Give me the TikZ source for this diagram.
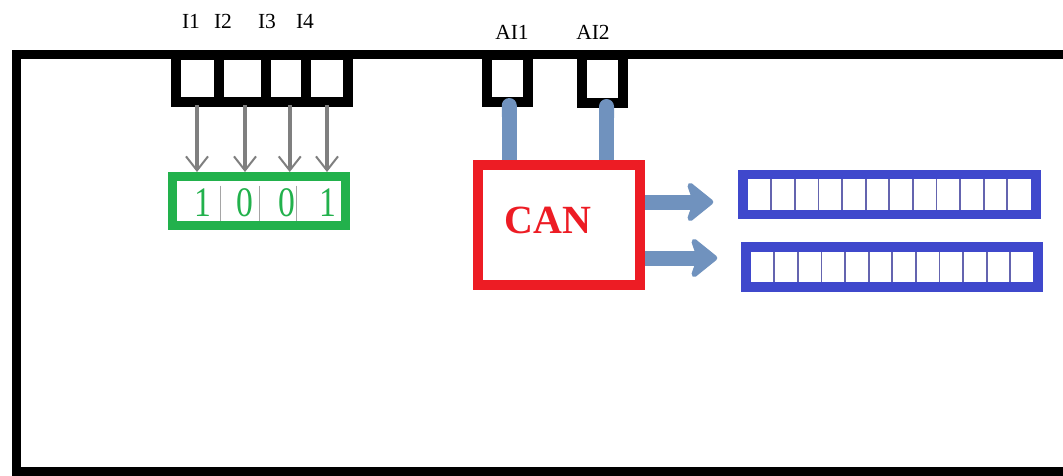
\documentclass[tikz,border=0pt]{standalone}
\usepackage{fontspec}
\setmainfont{Liberation Serif}
\usetikzlibrary{arrows.meta,calc}
\definecolor{pgreen}{RGB}{34,177,76}
\definecolor{pred}{RGB}{237,28,36}
\definecolor{pblue}{RGB}{63,72,204}
\definecolor{psteel}{RGB}{112,146,190}
\definecolor{pgray}{RGB}{127,127,127}
\definecolor{pcell}{RGB}{100,100,175}
\begin{document}
\begin{tikzpicture}[x=1pt,y=-1pt,
  port/.style={draw=black, line width=10pt, inner sep=0pt, rectangle},
  lbl/.style={font=\fontsize{21.5}{24}\selectfont, inner sep=0pt},
  bitbox/.style={draw=pgreen, line width=9pt, inner sep=0pt, minimum width=173pt, minimum height=49pt},
  bitdigit/.style={text=pgreen, font=\fontsize{42}{44}\selectfont, inner sep=0pt},
  bitdiv/.style={draw=pgray!70, line width=1pt},
  inarrow/.style={draw=pgray, line width=4pt, -{Straight Barb[length=14pt,width=22pt,line width=2pt]}},
  canbox/.style={draw=pred, line width=10pt, inner sep=0pt, minimum width=162pt, minimum height=120pt},
  cantext/.style={text=pred, font=\fontsize{40}{44}\selectfont\bfseries, inner sep=0pt},
  aiwire/.style={draw=psteel, line width=15pt, {Round Cap[]}-},
  fatarrow/.style={draw=psteel, fill=psteel, line width=15pt, -{Stealth[length=30pt,width=48pt,inset=8pt,round]}},
  reg/.style={draw=pblue, line width=9.5pt, inner sep=0pt, minimum width=293pt, minimum height=40pt},
  regdiv/.style={draw=pcell, line width=1.8pt}]
\useasboundingbox (0,0) rectangle (1063,475);
\clip (0,0) rectangle (1063,475);
\fill[white] (0,0) rectangle (1063,475);

% housing outline, open on the right
\draw[line width=9pt] (1080,54.5) -- (16.5,54.5) -- (16.5,471.5) -- (1080,471.5);

% digital inputs
\node[port, minimum width=43pt, minimum height=47pt] (i1) at (197,78.5) {};
\node[port, minimum width=47pt, minimum height=47pt] (i2) at (242,78.5) {};
\node[port, minimum width=40.5pt, minimum height=47pt] (i3) at (285.75,78.5) {};
\node[port, minimum width=42pt, minimum height=47pt] (i4) at (327,78.5) {};
\node[lbl] (li1) at (191,21) {I1};
\node[lbl] (li2) at (223,21) {I2};
\node[lbl] (li3) at (267,21) {I3};
\node[lbl] (li4) at (305,21) {I4};

% analog inputs
\node[port, minimum width=40.5pt, minimum height=47pt] (a1) at (507.25,78.5) {};
\node[port, minimum width=41pt, minimum height=48pt] (a2) at (602.5,79) {};
\node[lbl] (la1) at (512,32) {AI1};
\node[lbl] (la2) at (593,32) {AI2};

% input bit image
\node[bitbox] (bits) at (259,201) {};
\foreach \xx in {220,259,296} \draw[bitdiv] (\xx,185.5) -- (\xx,221);
\node[bitdigit] (b1) at (203,203) {\scalebox{0.8}[1]{1}};
\node[bitdigit] (b2) at (245,203) {\scalebox{0.8}[1]{0}};
\node[bitdigit] (b3) at (287,203) {\scalebox{0.8}[1]{0}};
\node[bitdigit] (b4) at (328,203) {\scalebox{0.8}[1]{1}};

\draw[inarrow] ([yshift=2pt]i1.south) -- (i1.south |- bits.north);
\draw[inarrow] ([xshift=3pt,yshift=2pt]i2.south) -- ([xshift=3pt]i2.south |- bits.north);
\draw[inarrow] ([xshift=4pt,yshift=2pt]i3.south) -- ([xshift=4pt]i3.south |- bits.north);
\draw[inarrow] ([yshift=2pt]i4.south) -- (i4.south |- bits.north);

% CAN block
\node[canbox] (can) at (559,225) {};
\node[cantext] (cant) at ([xshift=-11pt,yshift=5pt]can.center) {CAN};
\draw[aiwire] ([xshift=2pt,yshift=9pt]a1.south) -- ([xshift=2pt]a1.south |- can.north);
\draw[aiwire] ([xshift=4pt,yshift=9pt]a2.south) -- ([xshift=4pt]a2.south |- can.north);

% output registers
\node[reg] (reg1) at (889.5,194.5) {};
\node[reg, minimum width=292pt, minimum height=40pt] (reg2) at (892,267) {};
\foreach \r in {reg1,reg2}
  \foreach \k in {1,...,11}
    \draw[regdiv] ($(\r.north west)+(9.5+\k*23.6,9.5)$) -- ($(\r.south west)+(9.5+\k*23.6,-9.5)$);

\coordinate (o1) at ([yshift=23pt]can.east);
\coordinate (t1) at ([xshift=-25pt]reg1.west);
\coordinate (o2) at ([yshift=-33pt]can.east);
\coordinate (t2) at ([xshift=-24pt]reg2.west);
\draw[fatarrow] (o1) -- (o1 -| t1);
\draw[fatarrow] (o2) -- (o2 -| t2);
\end{tikzpicture}
\end{document}
